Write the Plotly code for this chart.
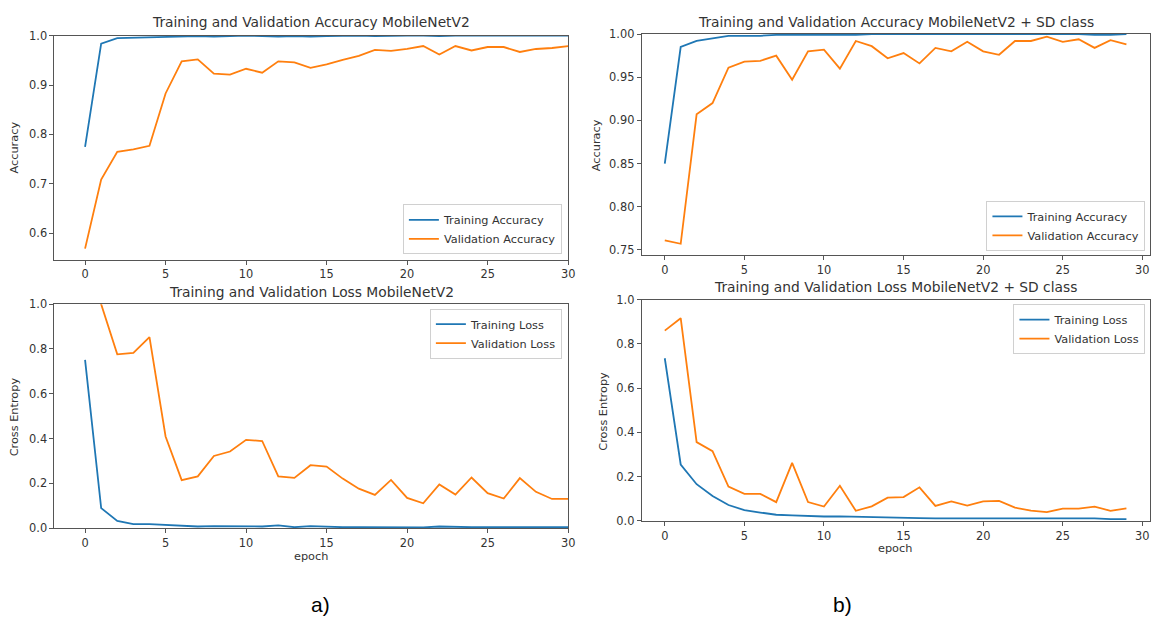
import plotly.graph_objects as go

W, H = 1158, 626

# ---------------- data ----------------
epochs_a = list(range(31))
epochs_b = list(range(30))

train_acc_a = [0.775, 0.984, 0.995, 0.996, 0.997, 0.998, 0.999, 0.999, 0.998, 0.999, 1.0,
               0.999, 0.998, 0.999, 0.998, 0.999, 1.0, 1.0, 0.999, 1.0, 1.0, 1.0, 0.999,
               1.0, 1.0, 1.0, 1.0, 1.0, 0.999, 1.0, 1.0]
val_acc_a = [0.569, 0.709, 0.765, 0.770, 0.777, 0.883, 0.948, 0.952, 0.923, 0.921, 0.933,
             0.925, 0.948, 0.946, 0.935, 0.942, 0.951, 0.959, 0.971, 0.969, 0.973, 0.979,
             0.962, 0.979, 0.970, 0.977, 0.977, 0.967, 0.973, 0.975, 0.979]
train_loss_a = [0.751, 0.089, 0.032, 0.018, 0.018, 0.014, 0.008, 0.007, 0.009, 0.008, 0.005,
                0.007, 0.012, 0.004, 0.009, 0.005, 0.004, 0.004, 0.004, 0.005, 0.004, 0.003,
                0.007, 0.004, 0.004, 0.004, 0.004, 0.004, 0.003, 0.004, 0.004]
val_loss_a = [1.25, 1.0, 0.776, 0.783, 0.853, 0.409, 0.214, 0.231, 0.322, 0.342, 0.394,
              0.389, 0.231, 0.224, 0.281, 0.275, 0.221, 0.176, 0.148, 0.215, 0.135, 0.111,
              0.195, 0.150, 0.226, 0.156, 0.132, 0.223, 0.162, 0.130, 0.130]

train_acc_b = [0.850, 0.985, 0.992, 0.995, 0.998, 0.998, 0.998, 0.999, 0.999, 0.999, 0.999,
               0.999, 0.999, 1.0, 1.0, 1.0, 1.0, 1.0, 1.0, 1.0, 1.0, 1.0, 1.0, 1.0, 1.0,
               1.0, 1.0, 0.999, 0.999, 1.0]
val_acc_b = [0.761, 0.757, 0.907, 0.920, 0.961, 0.968, 0.969, 0.975, 0.947, 0.980, 0.982,
             0.960, 0.992, 0.986, 0.972, 0.978, 0.966, 0.984, 0.980, 0.991, 0.980, 0.976,
             0.992, 0.992, 0.997, 0.991, 0.994, 0.984, 0.993, 0.988]
train_loss_b = [0.735, 0.255, 0.166, 0.113, 0.072, 0.049, 0.038, 0.028, 0.025, 0.022, 0.020,
                0.021, 0.019, 0.016, 0.014, 0.014, 0.013, 0.012, 0.012, 0.011, 0.011, 0.011,
                0.011, 0.010, 0.010, 0.009, 0.009, 0.012, 0.008, 0.008]
val_loss_b = [0.860, 0.916, 0.356, 0.315, 0.155, 0.122, 0.122, 0.085, 0.262, 0.085, 0.065,
              0.159, 0.046, 0.066, 0.105, 0.108, 0.152, 0.068, 0.088, 0.069, 0.088, 0.091,
              0.060, 0.047, 0.040, 0.056, 0.056, 0.065, 0.046, 0.057]

x_ticks = [0, 5, 10, 15, 20, 25, 30]
y_ticks_acc_a = [0.6, 0.7, 0.8, 0.9, 1.0]
y_ticks_acc_b = [0.75, 0.80, 0.85, 0.90, 0.95, 1.00]
y_ticks_loss = [0.0, 0.2, 0.4, 0.6, 0.8, 1.0]

titles = ["Training and Validation Accuracy MobileNetV2",
          "Training and Validation Loss MobileNetV2",
          "Training and Validation Accuracy MobileNetV2 + SD class",
          "Training and Validation Loss MobileNetV2 + SD class"]

# ---------------- style ----------------
BLUE = "#1f77b4"
ORANGE = "#ff7f0e"
FONT = "DejaVu Sans"
TXT = "#333333"
SPINE = "#555555"


def px(x):
    return x / W


def py(y):
    return 1 - y / H


fig = go.Figure()


def add_line(x, y, name, color, xa, ya, legend):
    fig.add_trace(go.Scatter(x=x, y=y, mode="lines", name=name,
                             line=dict(color=color, width=1.8),
                             xaxis=xa, yaxis=ya, legend=legend, showlegend=True))


add_line(epochs_a, train_acc_a, "Training Accuracy", BLUE, "x", "y", "legend")
add_line(epochs_a, val_acc_a, "Validation Accuracy", ORANGE, "x", "y", "legend")
add_line(epochs_a, train_loss_a, "Training Loss", BLUE, "x2", "y2", "legend2")
add_line(epochs_a, val_loss_a, "Validation Loss", ORANGE, "x2", "y2", "legend2")
add_line(epochs_b, train_acc_b, "Training Accuracy", BLUE, "x3", "y3", "legend3")
add_line(epochs_b, val_acc_b, "Validation Accuracy", ORANGE, "x3", "y3", "legend3")
add_line(epochs_b, train_loss_b, "Training Loss", BLUE, "x4", "y4", "legend4")
add_line(epochs_b, val_loss_b, "Validation Loss", ORANGE, "x4", "y4", "legend4")

axis_common = dict(showgrid=False, zeroline=False, showline=True, linecolor=SPINE,
                   linewidth=1, mirror=True, ticks="outside", ticklen=4, tickwidth=1,
                   tickcolor=SPINE, tickfont=dict(family=FONT, size=11.4, color=TXT))

# panel geometry (pixels)
left_x = (54.8, 571.6)
right_x = (645.6, 1156.5)
tl_y = (29.3, 258.3)
bl_y = (304.0, 533.0)
tr_y = (27.7, 254.0)
br_y = (299.3, 525.7)


def dom_x(p):
    return [px(p[0]), px(p[1])]


def dom_y(p):
    return [py(p[1]), py(p[0])]


fig.update_layout(
    xaxis=dict(domain=dom_x(left_x), range=[-1.9, 30], anchor="y",
               tickmode="array", tickvals=x_ticks, **axis_common),
    yaxis=dict(domain=dom_y(tl_y), range=[0.547, 1.0], anchor="x",
               tickmode="array", tickvals=y_ticks_acc_a,
               ticktext=[f"{v:.1f}" for v in y_ticks_acc_a], **axis_common),
    xaxis2=dict(domain=dom_x(left_x), range=[-1.9, 30], anchor="y2",
                tickmode="array", tickvals=x_ticks, **axis_common),
    yaxis2=dict(domain=dom_y(bl_y), range=[0, 1.0], anchor="x2",
                tickmode="array", tickvals=y_ticks_loss,
                ticktext=[f"{v:.1f}" for v in y_ticks_loss], **axis_common),
    xaxis3=dict(domain=dom_x(right_x), range=[-1.45, 30.45], anchor="y3",
                tickmode="array", tickvals=x_ticks, **axis_common),
    yaxis3=dict(domain=dom_y(tr_y), range=[0.7436, 1.0], anchor="x3",
                tickmode="array", tickvals=y_ticks_acc_b,
                ticktext=[f"{v:.2f}" for v in y_ticks_acc_b], **axis_common),
    xaxis4=dict(domain=dom_x(right_x), range=[-1.45, 30.45], anchor="y4",
                tickmode="array", tickvals=x_ticks, **axis_common),
    yaxis4=dict(domain=dom_y(br_y), range=[0, 1.0], anchor="x4",
                tickmode="array", tickvals=y_ticks_loss,
                ticktext=[f"{v:.1f}" for v in y_ticks_loss], **axis_common),
)

legend_common = dict(bgcolor="rgba(255,255,255,0.85)", bordercolor="#d0d0d0", borderwidth=1,
                     font=dict(family=FONT, size=11.3, color=TXT), tracegroupgap=0,
                     itemwidth=30, xanchor="right")

fig.update_layout(
    legend=dict(x=px(565.3), y=py(253.0), yanchor="bottom", **legend_common),
    legend2=dict(x=px(565.3), y=py(308.5), yanchor="top", **legend_common),
    legend3=dict(x=px(1152.4), y=py(249.5), yanchor="bottom", **legend_common),
    legend4=dict(x=px(1152.4), y=py(304.0), yanchor="top", **legend_common),
)

annots = []


def text(x, y, s, size, angle=0, family=FONT, color=TXT):
    annots.append(dict(x=px(x), y=py(y), xref="paper", yref="paper", text=s,
                       showarrow=False, xanchor="center", yanchor="middle",
                       textangle=angle, font=dict(family=family, size=size, color=color)))


text(313.2, 15.5, titles[0], 13.8)
text(313.2, 291.7, titles[1], 13.8)
text(901.0, 15.0, titles[2], 13.8)
text(901.0, 286.7, titles[3], 13.8)

text(14.8, 144.0, "Accuracy", 11.3, angle=-90)
text(14.8, 419.0, "Cross Entropy", 11.3, angle=-90)
text(600.3, 141.7, "Accuracy", 11.3, angle=-90)
text(607.6, 413.0, "Cross Entropy", 11.3, angle=-90)

text(312.6, 561.7, "epoch", 11.3)
text(900.7, 554.0, "epoch", 11.3)

text(322.0, 611.0, "a)", 21, family="Liberation Sans", color="#000000")
text(848.0, 611.0, "b)", 21, family="Liberation Sans", color="#000000")

fig.update_layout(annotations=annots, width=W, height=H,
                  margin=dict(l=0, r=0, t=0, b=0),
                  paper_bgcolor="white", plot_bgcolor="white",
                  font=dict(family=FONT, color=TXT))

fig.write_html("out.html", config={"displayModeBar": False},
               post_script="document.body.style.margin='0';")
